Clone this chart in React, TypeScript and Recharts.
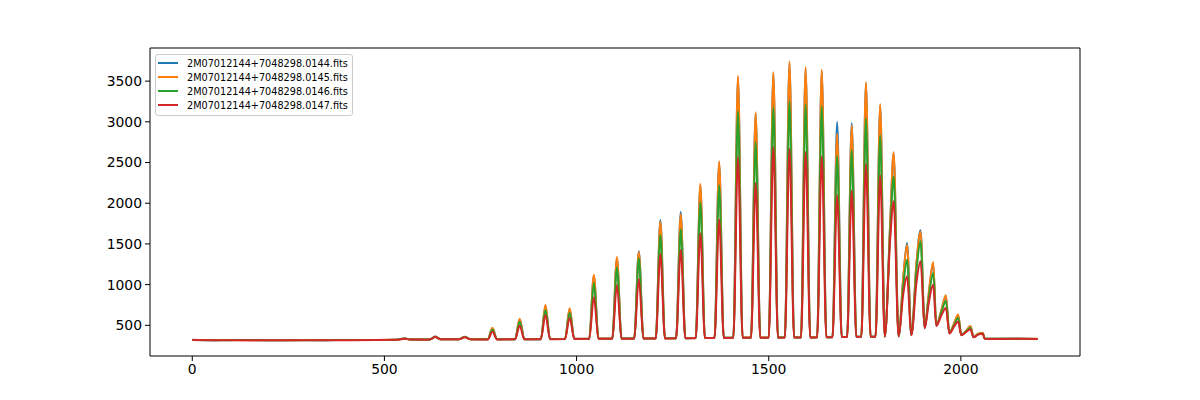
import { LineChart, Line, XAxis, YAxis, Legend, ReferenceLine } from 'recharts';

// pixel (column) positions of the sampled points
const xs = [
  0, 60, 130, 200, 270, 340, 410, 480, 530, 553,
  566, 610, 620, 632, 646, 694, 709, 724, 769, 781,
  793, 840, 852, 864, 907, 919, 931, 970, 982, 994,
  1033, 1045, 1057, 1093, 1105, 1117, 1150, 1162, 1174, 1206,
  1218, 1230, 1259, 1271, 1283, 1310, 1322, 1334, 1359, 1371,
  1383, 1408, 1420, 1432, 1454, 1466, 1478, 1500, 1512, 1524,
  1542, 1554, 1566, 1584, 1596, 1608, 1626, 1638, 1650, 1666,
  1678, 1690, 1704, 1716, 1728, 1741, 1753, 1765, 1778, 1790,
  1802, 1816, 1825, 1838, 1850, 1860, 1871, 1885, 1895, 1906,
  1916, 1928, 1936, 1950, 1961, 1970, 1982, 1993, 2001, 2013,
  2025, 2033, 2045, 2057, 2062, 2100, 2150, 2200,
];

const fits0144 = [
  322, 318, 320, 316, 319, 318, 320, 321, 324, 340,
  326, 325, 330, 362, 330, 330, 358, 330, 328, 465,
  328, 329, 575, 330, 330, 740, 332, 332, 700, 334,
  335, 1110, 336, 337, 1320, 338, 338, 1410, 339, 340,
  1794, 341, 341, 1892, 342, 343, 2220, 344, 345, 2500,
  346, 347, 3540, 348, 348, 3100, 348, 349, 3590, 349,
  350, 3720, 350, 351, 3650, 351, 352, 3620, 353, 354,
  2997, 356, 357, 2985, 358, 359, 3470, 360, 361, 3200,
  362, 1740, 2610, 365, 1070, 1511, 380, 1290, 1667, 470,
  860, 1260, 500, 695, 860, 405, 515, 625, 382, 425,
  485, 355, 392, 402, 338, 334, 335, 333,
];

const fits0145 = [
  321, 319, 318, 317, 318, 319, 319, 320, 322, 338,
  325, 326, 329, 360, 330, 329, 356, 329, 328, 470,
  328, 330, 581, 330, 331, 749, 332, 333, 709, 334,
  336, 1120, 337, 338, 1339, 338, 339, 1400, 340, 340,
  1773, 341, 342, 1864, 343, 344, 2240, 345, 346, 2515,
  347, 348, 3566, 349, 349, 3117, 349, 350, 3612, 350,
  351, 3743, 351, 352, 3673, 352, 353, 3640, 354, 355,
  2854, 357, 358, 2957, 359, 360, 3489, 361, 362, 3219,
  363, 1750, 2629, 366, 1080, 1490, 382, 1300, 1650, 475,
  880, 1278, 505, 700, 869, 408, 520, 632, 384, 430,
  491, 356, 396, 408, 338, 335, 334, 334,
];

const fits0146 = [
  320, 317, 319, 318, 317, 318, 320, 319, 323, 336,
  326, 325, 330, 358, 329, 328, 355, 329, 328, 445,
  328, 329, 544, 330, 330, 688, 331, 332, 655, 333,
  335, 1020, 336, 337, 1212, 337, 338, 1323, 339, 339,
  1609, 340, 341, 1680, 342, 343, 2011, 344, 345, 2220,
  346, 347, 3129, 348, 348, 2752, 348, 349, 3178, 349,
  350, 3252, 350, 351, 3210, 351, 352, 3190, 353, 354,
  2584, 356, 357, 2657, 358, 359, 3038, 360, 361, 2834,
  362, 1650, 2330, 365, 980, 1306, 380, 1200, 1532, 468,
  820, 1142, 498, 670, 802, 404, 500, 590, 381, 422,
  470, 354, 390, 400, 337, 334, 335, 333,
];

const fits0147 = [
  320, 318, 318, 316, 318, 317, 318, 320, 322, 335,
  325, 324, 328, 355, 328, 328, 352, 328, 327, 421,
  327, 328, 495, 329, 330, 627, 330, 331, 593, 332,
  334, 844, 335, 336, 995, 336, 337, 1069, 338, 338,
  1376, 339, 340, 1425, 341, 342, 1630, 343, 344, 1800,
  345, 346, 2568, 347, 347, 2248, 347, 348, 2690, 348,
  349, 2670, 349, 350, 2629, 350, 351, 2576, 352, 353,
  2097, 355, 356, 2154, 357, 358, 2482, 359, 360, 2343,
  361, 1550, 2023, 364, 880, 1102, 378, 1050, 1286, 462,
  760, 1000, 492, 630, 712, 400, 480, 546, 378, 415,
  451, 352, 386, 396, 336, 333, 334, 332,
];

const seriesNames = [
  '2M07012144+7048298.0144.fits',
  '2M07012144+7048298.0145.fits',
  '2M07012144+7048298.0146.fits',
  '2M07012144+7048298.0147.fits',
];
const colors = ['#1f77b4', '#ff7f0e', '#2ca02c', '#d62728'];
const xTicks = [0, 500, 1000, 1500, 2000];
const yTicks = [500, 1000, 1500, 2000, 2500, 3000, 3500];
const xDomain = [-110, 2310];
const yDomain = [123, 3907];

const data = xs.map((x, i) => ({
  x,
  s0: fits0144[i],
  s1: fits0145[i],
  s2: fits0146[i],
  s3: fits0147[i],
}));

const tickStyle = { fill: '#000', fontSize: 13.9, fontFamily: 'DejaVu Sans' };

function renderLegend(props: any) {
  const payload = props.payload || [];
  return (
    <div
      style={{
        border: '1px solid #cccccc',
        borderRadius: 3,
        background: 'rgba(255,255,255,0.8)',
        padding: '1px 4px 3px 2px',
        fontFamily: 'DejaVu Sans',
        fontSize: 9.7,
        color: '#000',
      }}
    >
      {payload.map((entry: any) => (
        <div key={entry.value} style={{ display: 'flex', alignItems: 'center', height: 14 }}>
          <span style={{ display: 'inline-block', width: 20, height: 2, background: entry.color, marginRight: 9 }} />
          <span style={{ whiteSpace: 'nowrap' }}>{entry.value}</span>
        </div>
      ))}
    </div>
  );
}

export default function App() {
  return (
    <div style={{ position: 'absolute', left: 0, top: 0, background: '#fff' }}>
      <LineChart width={1200} height={400} data={data} margin={{ top: 48, right: 120, bottom: 0, left: 0 }}>
        <XAxis
          dataKey="x"
          type="number"
          domain={xDomain}
          ticks={xTicks}
          allowDataOverflow
          height={44}
          tick={tickStyle}
          tickSize={5}
          tickMargin={3}
          tickLine={{ stroke: '#000' }}
          axisLine={{ stroke: '#000' }}
        />
        <YAxis
          type="number"
          domain={yDomain}
          ticks={yTicks}
          allowDataOverflow
          width={150}
          tick={tickStyle}
          tickSize={5}
          tickMargin={3}
          tickLine={{ stroke: '#000' }}
          axisLine={{ stroke: '#000' }}
        />
        {/* top and right spines */}
        <ReferenceLine y={yDomain[1]} stroke="#000" strokeWidth={1} />
        <ReferenceLine x={xDomain[1]} stroke="#000" strokeWidth={1} />
        <Legend
          layout="vertical"
          align="center"
          verticalAlign="middle"
          content={renderLegend}
          wrapperStyle={{ left: 155, top: 54, width: 'auto', right: 'auto', bottom: 'auto' }}
        />
        {seriesNames.map((name, i) => (
          <Line
            key={name}
            type="monotone"
            dataKey={`s${i}`}
            name={name}
            stroke={colors[i]}
            strokeWidth={2}
            dot={false}
            activeDot={false}
            isAnimationActive={false}
          />
        ))}
      </LineChart>
    </div>
  );
}
